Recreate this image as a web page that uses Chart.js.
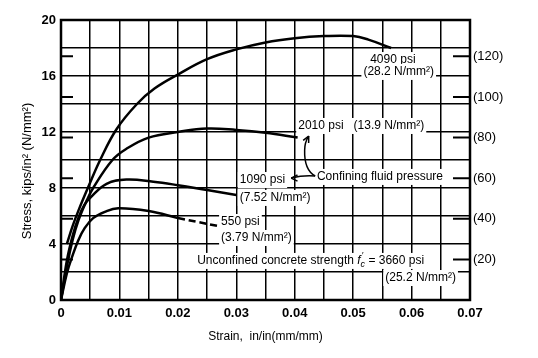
<!DOCTYPE html>
<html>
<head>
<meta charset="utf-8">
<script src="https://cdn.jsdelivr.net/npm/chart.js@4"></script>
<style>
  body { margin: 0; background: #fff; }
  #box { width: 538px; height: 358px; }
</style>
</head>
<body>
<div id="box"><canvas id="grafico" width="538" height="358"></canvas></div>
<script>
// curvas tensao x deformacao (ksi)
const strain4090 = [0.001, 0.002, 0.003, 0.0047, 0.0067, 0.0095, 0.013, 0.016, 0.020, 0.025, 0.030, 0.035, 0.040, 0.045, 0.050, 0.0526, 0.0565]
const stress4090 = [4.0, 5.3, 6.4, 8.1, 10.0, 12.2, 14.0, 15.1, 16.1, 17.2, 17.9, 18.4, 18.7, 18.85, 18.85, 18.6, 18.0]

const strain2010 = [0, 0.001, 0.002, 0.003, 0.0044, 0.0055, 0.0088, 0.0112, 0.015, 0.020, 0.025, 0.030, 0.035, 0.0405]
const stress2010 = [0, 2.4, 4.3, 5.7, 7.1, 8.0, 10.0, 10.8, 11.6, 12.0, 12.25, 12.15, 11.95, 11.6]

const strain1090 = [0, 0.001, 0.002, 0.003, 0.004, 0.005, 0.0078, 0.0112, 0.0158, 0.020, 0.025, 0.030]
const stress1090 = [0, 2.8, 4.6, 5.9, 6.8, 7.3, 8.3, 8.6, 8.45, 8.2, 7.85, 7.5]

const strain550 = [0, 0.001, 0.002, 0.003, 0.004, 0.0055, 0.0075, 0.0098, 0.015, 0.020]
const stress550 = [0, 1.9, 3.2, 4.3, 5.1, 5.85, 6.3, 6.55, 6.35, 5.85]
const strain550tracejado = [0.020, 0.0267]
const stress550tracejado = [5.85, 5.3]

const nmmTicks = [20, 40, 60, 80, 100, 120]
const KSI_NMM = 6.895

// rotulos: [x, y, alinhamento, partes]
const rotulos = [
    [0.0568, 17.14, 'center', [['4090 psi']]],
    [0.0578, 16.29, 'center', [['(28.2 N/mm²)']]],
    [0.0406, 12.43, 'left', [['2010 psi   (13.9 N/mm²)']]],
    [0.0438, 8.79, 'left', [['Confining fluid pressure']]],
    [0.0306, 8.57, 'left', [['1090 psi']]],
    [0.0306, 7.29, 'left', [['(7.52 N/mm²)']]],
    [0.0274, 5.57, 'left', [['550 psi']]],
    [0.0274, 4.43, 'left', [['(3.79 N/mm²)']]],
    [0.0233, 2.79, 'left', [['Unconfined concrete strength '], ['f', 'it'], ['′', 'sup'], ['c', 'sub'], [' = 3660 psi']]],
    [0.0555, 1.57, 'left', [['(25.2 N/mm²)']]]
]

function pontos(xs, ys){
    var lista = []
    for(let i = 0; i < xs.length; i++){
        lista.push({x: xs[i], y: ys[i]})
    }
    return lista
}

function serie(xs, ys, dash){
    return {
        data: pontos(xs, ys),
        showLine: true,
        borderColor: '#000',
        borderWidth: 2.5,
        borderDash: dash || [],
        pointRadius: 0,
        fill: false,
        tension: 0.4
    }
}

function fonte(estilo){
    if(estilo == 'it') return 'italic 12px "Liberation Sans", Arial, sans-serif'
    if(estilo == 'sub' || estilo == 'sup') return 'italic 9px "Liberation Sans", Arial, sans-serif'
    return '12px "Liberation Sans", Arial, sans-serif'
}

function escreve(ctx, px, py, alinha, partes){
    var larg = 0
    partes.forEach(function(p){
        ctx.font = fonte(p[1])
        if(p[1] != 'sup') larg += ctx.measureText(p[0]).width
    })
    var x0 = alinha == 'center' ? px - larg / 2 : px
    ctx.fillStyle = '#fff'
    ctx.fillRect(x0 - 2, py - 8, larg + 4, 16)
    ctx.fillStyle = '#000'
    ctx.textBaseline = 'middle'
    ctx.textAlign = 'left'
    var x = x0
    partes.forEach(function(p){
        ctx.font = fonte(p[1])
        if(p[1] == 'sup'){
            ctx.fillText(p[0], x + 1, py - 5)
        } else if(p[1] == 'sub'){
            ctx.fillText(p[0], x, py + 4)
            x += ctx.measureText(p[0]).width
        } else {
            ctx.fillText(p[0], x, py)
            x += ctx.measureText(p[0]).width
        }
    })
}

function seta(ctx, x1, y1, x2, y2){
    var ang = Math.atan2(y2 - y1, x2 - x1)
    ctx.beginPath()
    ctx.moveTo(x2, y2)
    ctx.lineTo(x2 - 7 * Math.cos(ang - 0.45), y2 - 7 * Math.sin(ang - 0.45))
    ctx.moveTo(x2, y2)
    ctx.lineTo(x2 - 7 * Math.cos(ang + 0.45), y2 - 7 * Math.sin(ang + 0.45))
    ctx.stroke()
}

const extras = {
    id: 'extras',
    afterDraw: function(chart){
        const ctx = chart.ctx
        const sx = chart.scales.x
        const sy = chart.scales.y
        const s2 = chart.scales.y2
        const area = chart.chartArea
        ctx.save()

        rotulos.forEach(function(r){
            escreve(ctx, sx.getPixelForValue(r[0]), sy.getPixelForValue(r[1]), r[2], r[3])
        })

        // setas da pressao confinante
        ctx.strokeStyle = '#000'
        ctx.lineWidth = 1.5
        var ox = sx.getPixelForValue(0.0435), oy = sy.getPixelForValue(8.86)
        var cx = sx.getPixelForValue(0.0416), cy = sy.getPixelForValue(9.3)
        var mx = sx.getPixelForValue(0.0417), my = sy.getPixelForValue(10.7)
        var tx = sx.getPixelForValue(0.0424), ty = sy.getPixelForValue(11.71)
        ctx.beginPath()
        ctx.moveTo(ox, oy)
        ctx.quadraticCurveTo(cx, cy, mx, my)
        ctx.quadraticCurveTo(mx, my - 8, tx, ty)
        ctx.stroke()
        seta(ctx, mx, my - 6, tx, ty)
        var lx = sx.getPixelForValue(0.0394), ly = sy.getPixelForValue(8.71)
        ctx.beginPath()
        ctx.moveTo(ox, oy)
        ctx.quadraticCurveTo((ox + lx) / 2, oy - 1, lx, ly)
        ctx.stroke()
        seta(ctx, lx + 8, ly, lx, ly)

        // marcas N/mm2 nas bordas
        ctx.lineWidth = 2
        nmmTicks.forEach(function(v){
            var py = s2.getPixelForValue(v)
            ctx.beginPath()
            ctx.moveTo(area.left, py)
            ctx.lineTo(area.left + 12, py)
            ctx.moveTo(area.right - 17, py)
            ctx.lineTo(area.right, py)
            ctx.stroke()
        })

        // moldura
        ctx.lineWidth = 2.5
        ctx.strokeRect(area.left, area.top, area.right - area.left, area.bottom - area.top)

        // titulo do eixo y
        ctx.translate(27, 171)
        ctx.rotate(-Math.PI / 2)
        ctx.font = '13px "Liberation Sans", Arial, sans-serif'
        ctx.textAlign = 'center'
        ctx.textBaseline = 'middle'
        ctx.fillStyle = '#000'
        ctx.fillText('Stress, kips/in² (N/mm²)', 0, 0)
        ctx.restore()
    }
}

const ctx = document.getElementById('grafico').getContext('2d')
const grafico = new Chart(ctx, {
    type: 'scatter',
    data: {
        datasets: [
            serie(strain4090, stress4090),
            serie(strain2010, stress2010),
            serie(strain1090, stress1090),
            serie(strain550, stress550),
            serie(strain550tracejado, stress550tracejado, [7, 4])
        ]
    },
    options: {
        responsive: false,
        animation: false,
        layout: { padding: { top: 20 } },
        plugins: { legend: { display: false }, tooltip: { enabled: false } },
        scales: {
            x: {
                type: 'linear',
                min: 0,
                max: 0.07,
                afterFit: function(s){ s.height = 58 },
                grid: { color: '#000', lineWidth: 1.5, drawTicks: false },
                border: { display: false },
                ticks: {
                    stepSize: 0.005,
                    autoSkip: false,
                    maxRotation: 0,
                    padding: 6,
                    color: '#000',
                    font: { size: 13, weight: 'bold', family: '"Liberation Sans", Arial, sans-serif' },
                    callback: function(v){
                        var k = Math.round(v / 0.005)
                        if(k % 2) return ''
                        return k == 0 ? '0' : (k / 200).toFixed(2)
                    }
                },
                title: {
                    display: true,
                    text: 'Strain,  in/in(mm/mm)',
                    color: '#000',
                    font: { size: 12, family: '"Liberation Sans", Arial, sans-serif' },
                    padding: { top: 0, bottom: 14 }
                }
            },
            y: {
                min: 0,
                max: 20,
                afterFit: function(s){ s.width = 61 },
                grid: { color: '#000', lineWidth: 1.5, drawTicks: false },
                border: { display: false },
                ticks: {
                    stepSize: 2,
                    padding: 5,
                    color: '#000',
                    font: { size: 13, weight: 'bold', family: '"Liberation Sans", Arial, sans-serif' },
                    callback: function(v){ return v % 4 == 0 ? v : '' }
                }
            },
            y2: {
                position: 'right',
                min: 0,
                max: 20 * KSI_NMM,
                afterFit: function(s){ s.width = 68 },
                afterBuildTicks: function(s){ s.ticks = nmmTicks.map(function(v){ return {value: v} }) },
                grid: { drawOnChartArea: false, drawTicks: false },
                border: { display: false },
                ticks: {
                    padding: 3,
                    color: '#000',
                    font: { size: 13, family: '"Liberation Sans", Arial, sans-serif' },
                    callback: function(v){ return '(' + v + ')' }
                }
            }
        }
    },
    plugins: [extras]
})
</script>
</body>
</html>
